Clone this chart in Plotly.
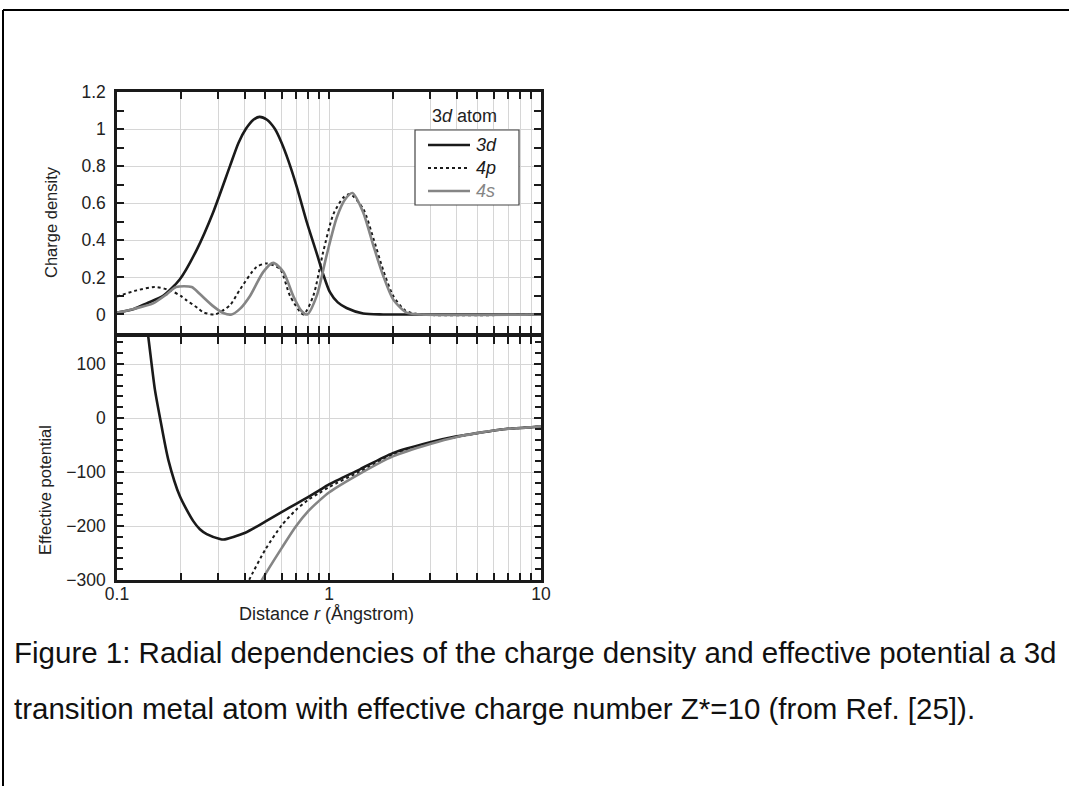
import plotly.graph_objects as go

# ---------------- data ----------------
# Top panel: charge density
r_3d_top = [0.10, 0.12, 0.138, 0.165, 0.198, 0.238, 0.284, 0.341, 0.374, 0.405, 0.44, 0.47,
            0.51, 0.556, 0.598, 0.643, 0.704, 0.785, 0.875, 0.937, 1.01, 1.10, 1.21, 1.45, 1.8, 3.0, 10.0]
rho_3d = [0.01, 0.03, 0.06, 0.10, 0.19, 0.35, 0.55, 0.80, 0.925, 1.0, 1.05, 1.066,
          1.05, 1.0, 0.925, 0.83, 0.69, 0.50, 0.33, 0.22, 0.12, 0.065, 0.035, 0.005, 0.0, 0.0, 0.0]

r_4p_top = [0.10, 0.124, 0.151, 0.178, 0.20, 0.213, 0.24, 0.255, 0.29, 0.341, 0.38, 0.455, 0.508,
            0.588, 0.655, 0.757, 0.843, 0.94, 1.048, 1.167, 1.255, 1.45, 1.62, 1.8, 2.01, 2.3, 2.7, 10.0]
rho_4p = [0.097, 0.13, 0.148, 0.13, 0.10, 0.076, 0.035, 0.012, 0.0, 0.05, 0.134, 0.256, 0.275,
          0.245, 0.10, 0.0, 0.10, 0.34, 0.54, 0.63, 0.65, 0.57, 0.41, 0.24, 0.10, 0.02, 0.0, 0.0]

r_4s_top = [0.10, 0.12, 0.148, 0.172, 0.19, 0.225, 0.246, 0.284, 0.317, 0.347, 0.38, 0.424, 0.49,
            0.546, 0.609, 0.678, 0.74, 0.79, 0.875, 0.975, 1.086, 1.19, 1.29, 1.45, 1.62, 1.80,
            2.01, 2.32, 2.7, 10.0]
rho_4s = [0.01, 0.03, 0.06, 0.11, 0.148, 0.148, 0.11, 0.045, 0.008, 0.0, 0.03, 0.10, 0.23,
          0.278, 0.23, 0.10, 0.02, 0.0, 0.10, 0.32, 0.52, 0.62, 0.655, 0.55, 0.37, 0.21,
          0.08, 0.01, 0.0, 0.0]

# Bottom panel: effective potential
r_3d_bot = [0.135, 0.1405, 0.151, 0.1596, 0.1745, 0.198, 0.229, 0.246, 0.265, 0.306, 0.318,
            0.40, 0.50, 0.60, 0.70, 0.80, 0.90, 1.0, 1.4, 2.0, 3.0, 4.0, 5.0, 6.0, 7.0, 8.0, 9.0, 10.0]
v_3d = [200, 150, 52, 0, -77, -145, -191, -206, -215, -224, -225,
        -213, -192, -174, -159, -146, -134, -123, -95, -65, -45, -34, -28, -23, -20, -18.5, -17, -15.5]

r_4p_bot = [0.40, 0.42, 0.50, 0.60, 0.70, 0.80, 0.90, 1.0, 1.4, 2.0, 3.0, 4.0, 5.0, 6.0, 7.0, 8.0, 9.0, 10.0]
v_4p = [-320, -300, -244, -198, -170, -151, -139, -128, -99, -68, -46, -35, -28, -23, -20, -18.5, -17, -15.5]

r_4s_bot = [0.46, 0.489, 0.60, 0.70, 0.80, 0.90, 1.0, 1.4, 2.0, 3.0, 4.0, 5.0, 6.0, 7.0, 8.0, 9.0, 10.0]
v_4s = [-315, -296, -240, -200, -172, -153, -138, -103, -71, -48, -35, -28, -23, -20, -18.5, -17, -15.5]

x_tickvals = [0.1, 0.2, 0.3, 0.4, 0.5, 0.6, 0.7, 0.8, 0.9, 1, 2, 3, 4, 5, 6, 7, 8, 9, 10]
x_ticktext = ["0.1", "", "", "", "", "", "", "", "", "1", "", "", "", "", "", "", "", "", "10"]
y1_tickvals = [0, 0.2, 0.4, 0.6, 0.8, 1.0, 1.2]
y1_ticktext = ["0", "0.2", "0.4", "0.6", "0.8", "1", "1.2"]
y2_tickvals = [-300, -200, -100, 0, 100]

legend_labels = ["<i>3d</i>", "<i>4p</i>", "<i>4s</i>"]
caption_1 = "Figure 1: Radial dependencies of the charge density and effective potential a 3d"
caption_2 = "transition metal atom with effective charge number Z*=10 (from Ref. [25])."

# ---------------- styling ----------------
FONT = "Liberation Sans, Arial, Helvetica, sans-serif"
W, H = 1069, 786
L, R, T, B = 117, 541, 92, 580          # plot area in pixels
PW, PH = R - L, B - T


def px(xp):
    return (xp - L) / PW


def py(yp):
    return (B - yp) / PH


BLACK = "#1a1a1a"
GREY = "#858585"
GRID = "#d6d6d6"
TXT = "#222222"

fig = go.Figure()

spl = dict(shape="spline", smoothing=0.7)
styles = [dict(color=BLACK, width=2.6), dict(color=BLACK, width=2, dash="dot"), dict(color=GREY, width=2.6)]

fig.add_trace(go.Scatter(x=r_3d_top, y=rho_3d, mode="lines", name="3d",
                         line=dict(**styles[0], **spl), xaxis="x", yaxis="y"))
fig.add_trace(go.Scatter(x=r_4p_top, y=rho_4p, mode="lines", name="4p",
                         line=dict(**styles[1], **spl), xaxis="x", yaxis="y"))
fig.add_trace(go.Scatter(x=r_4s_top, y=rho_4s, mode="lines", name="4s",
                         line=dict(**styles[2], **spl), xaxis="x", yaxis="y"))

fig.add_trace(go.Scatter(x=r_3d_bot, y=v_3d, mode="lines", name="3d",
                         line=dict(**styles[0], **spl), xaxis="x2", yaxis="y2"))
fig.add_trace(go.Scatter(x=r_4p_bot, y=v_4p, mode="lines", name="4p",
                         line=dict(**styles[1], **spl), xaxis="x2", yaxis="y2"))
fig.add_trace(go.Scatter(x=r_4s_bot, y=v_4s, mode="lines", name="4s",
                         line=dict(**styles[2], **spl), xaxis="x2", yaxis="y2"))

axis_common = dict(showline=True, linecolor=BLACK, linewidth=2.5, mirror="ticks",
                   ticks="inside", ticklen=7, tickwidth=2, tickcolor=BLACK,
                   showgrid=True, gridcolor=GRID, gridwidth=1.3, zeroline=False,
                   tickfont=dict(family=FONT, size=17.5, color=TXT))

top_dom = [py(333), 1.0]
bot_dom = [0.0, py(337)]

fig.update_layout(
    width=W, height=H,
    margin=dict(l=L, r=W - R, t=T, b=H - B),
    paper_bgcolor="white", plot_bgcolor="white",
    font=dict(family=FONT, size=16, color=TXT),
    showlegend=False,
    xaxis=dict(type="log", range=[-1, 1], anchor="y", domain=[0, 1],
               tickmode="array", tickvals=x_tickvals, ticktext=x_ticktext,
               showticklabels=False, **axis_common),
    yaxis=dict(range=[-0.1, 1.2], domain=top_dom, anchor="x",
               tickmode="array", tickvals=y1_tickvals, ticktext=y1_ticktext,
               ticklabelstandoff=5,
               minor=dict(ticks="inside", ticklen=7, tickwidth=2, tickcolor=BLACK,
                          tickvals=[-0.1, 0.1, 0.3, 0.5, 0.7, 0.9, 1.1], showgrid=False),
               **axis_common),
    xaxis2=dict(type="log", range=[-1, 1], anchor="y2", domain=[0, 1],
                tickmode="array", tickvals=x_tickvals, ticktext=x_ticktext,
                showticklabels=True, ticklabelstandoff=-4, **axis_common),
    yaxis2=dict(range=[-300, 150], domain=bot_dom, anchor="x2",
                tickmode="array", tickvals=y2_tickvals, ticklabelstandoff=5,
                minor=dict(ticks="inside", ticklen=6, tickwidth=2, tickcolor=BLACK,
                           dtick=20, tick0=0, showgrid=False),
                **axis_common),
)

# ---- legend box drawn as annotations/shapes (title sits above the box as in the figure) ----
leg_x0, leg_x1, leg_y0, leg_y1 = 415, 519, 130, 205
row_y = [145, 168, 191]
label_colors = [BLACK, BLACK, GREY]

shapes = [
    dict(type="rect", xref="paper", yref="paper", x0=px(leg_x0), x1=px(leg_x1),
         y0=py(leg_y1), y1=py(leg_y0), line=dict(color="#444444", width=1.2), fillcolor="white",
         layer="above"),
]
annotations = [
    dict(text="3<i>d</i> atom", x=px(464), y=py(116), xref="paper", yref="paper",
         showarrow=False, font=dict(family=FONT, size=18, color=TXT),
         xanchor="center", yanchor="middle"),
]
for lab, st, yy, col in zip(legend_labels, styles, row_y, label_colors):
    shapes.append(dict(type="line", xref="paper", yref="paper", x0=px(428), x1=px(470),
                       y0=py(yy), y1=py(yy), line=st, layer="above"))
    annotations.append(dict(text=lab, x=px(474), y=py(yy), xref="paper", yref="paper",
                            showarrow=False, font=dict(family=FONT, size=18, color=col),
                            xanchor="left", yanchor="middle"))

annotations += [
    dict(text="Charge density", x=px(51), y=py(222), xref="paper", yref="paper",
         showarrow=False, textangle=-90, font=dict(family=FONT, size=16.5, color=TXT),
         xanchor="center", yanchor="middle"),
    dict(text="Effective potential", x=px(45), y=py(490), xref="paper", yref="paper",
         showarrow=False, textangle=-90, font=dict(family=FONT, size=16.5, color=TXT),
         xanchor="center", yanchor="middle"),
    dict(text="Distance <i>r</i> (Ångstrom)", x=px(326), y=py(614), xref="paper", yref="paper",
         showarrow=False, font=dict(family=FONT, size=18, color=TXT),
         xanchor="center", yanchor="middle"),
    dict(text=caption_1, x=px(12), y=py(652), xref="paper", yref="paper",
         showarrow=False, font=dict(family=FONT, size=29.5, color="#111111"),
         xanchor="left", yanchor="middle"),
    dict(text=caption_2, x=px(12), y=py(708), xref="paper", yref="paper",
         showarrow=False, font=dict(family=FONT, size=29.5, color="#111111"),
         xanchor="left", yanchor="middle"),
]

# page frame (top and left border of the document box)
shapes += [
    dict(type="line", xref="paper", yref="paper", x0=px(3), x1=px(1090), y0=py(10), y1=py(10),
         line=dict(color="black", width=2)),
    dict(type="line", xref="paper", yref="paper", x0=px(3), x1=px(3), y0=py(10), y1=py(800),
         line=dict(color="black", width=2)),
]
fig.update_layout(shapes=shapes, annotations=annotations)

fig.write_html("out.html")
